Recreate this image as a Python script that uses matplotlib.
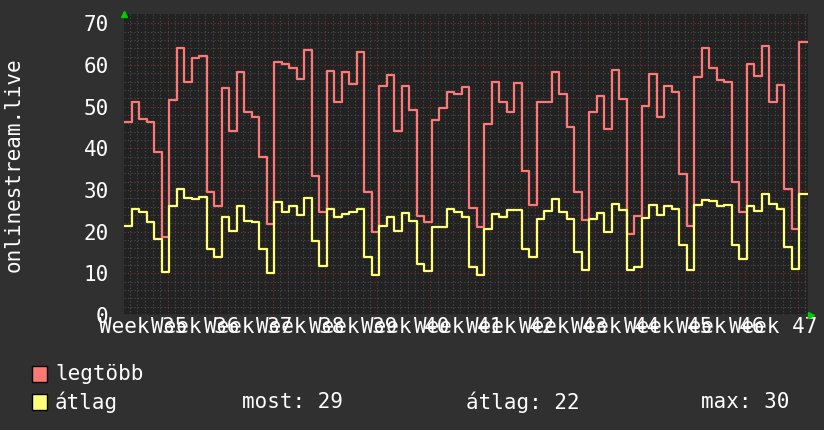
import numpy as np
import matplotlib
matplotlib.use("Agg")
import matplotlib.pyplot as plt
from matplotlib.patches import Rectangle

# ---- data (daily values) ----
legtobb = [46.2, 51.0, 47.1, 46.3, 39.1, 18.8, 51.7, 64.0, 56.0, 61.6,
           62.2, 29.5, 26.2, 54.5, 44.2, 58.2, 48.8, 47.5, 37.8, 21.9,
           60.8, 60.3, 59.3, 56.7, 63.6, 33.3, 24.8, 58.6, 51.2, 58.3,
           55.5, 63.1, 29.4, 19.8, 55.0, 57.6, 44.2, 55.0, 49.1, 23.8,
           22.4, 46.9, 49.7, 53.4, 53.0, 54.7, 25.7, 21.0, 45.8, 55.9,
           51.2, 48.6, 55.7, 34.6, 26.5, 51.0, 51.2, 58.3, 53.0, 45.2,
           29.6, 22.8, 48.8, 52.6, 44.7, 58.8, 51.8, 19.4, 23.8, 50.2,
           57.9, 47.6, 55.0, 53.4, 33.8, 21.4, 57.1, 64.1, 59.3, 56.4,
           55.8, 31.8, 24.6, 60.2, 57.4, 64.6, 51.2, 55.2, 30.2, 20.7,
           65.4]
atlag = [21.4, 25.4, 24.8, 22.4, 18.2, 10.2, 26.2, 30.2, 28.0, 27.8,
         28.2, 15.8, 14.0, 23.5, 20.1, 26.2, 22.6, 22.2, 15.8, 10.1,
         27.0, 24.8, 26.2, 24.1, 28.1, 17.7, 11.8, 25.4, 23.4, 24.2,
         24.6, 25.4, 14.0, 9.6, 21.4, 23.5, 20.2, 24.5, 22.6, 12.2,
         10.6, 21.2, 21.0, 25.4, 24.6, 23.4, 11.6, 9.6, 20.7, 24.3,
         23.4, 25.2, 25.2, 15.8, 14.0, 23.0, 24.9, 27.8, 24.6, 23.0,
         15.1, 10.7, 23.0, 24.5, 19.8, 26.7, 25.2, 10.7, 11.6, 23.3,
         26.4, 24.1, 26.2, 25.5, 16.9, 10.7, 26.5, 27.6, 27.4, 26.2,
         26.5, 16.8, 13.4, 26.2, 25.0, 29.1, 26.7, 25.4, 16.2, 11.0,
         29.1]
week_labels = ["Week 35", "Week 36", "Week 37", "Week 38", "Week 39", "Week 40",
               "Week 41", "Week 42", "Week 43", "Week 44", "Week 45", "Week 46",
               "Week 47"]
y_ticks = [0, 10, 20, 30, 40, 50, 60, 70]
y_title = "onlinestream.live"
legend_names = ["legtöbb", "átlag"]
stats = ["most: 29", "átlag: 22", "max: 30"]

# ---- style ----
BG = "#303030"
PLOT_BG = "#222222"
RED = "#ff7878"
YEL = "#ffff78"
MINOR = "#4c4c4c"
MAJOR = "#7a3434"
FONT = "DejaVu Sans Mono"
FS = 15

W, H = 824, 430
fig = plt.figure(figsize=(W / 100, H / 100), dpi=100, facecolor=BG)
x0, x1, yb, yt = 124, 808, 315, 14
ax = fig.add_axes([x0 / W, (H - yb) / H, (x1 - x0) / W, (yb - yt) / H])
ax.set_facecolor(PLOT_BG)

n = len(legtobb)
xs = np.arange(n + 1)
day_off = 0.06
xmax = (x1 - x0) / 7.5

# grid
first_major = 5.8
for d in np.arange(first_major - 6, xmax, 1.0):
    if d <= 0:
        continue
    is_major = abs(((d - first_major) / 7.0) - round((d - first_major) / 7.0)) < 1e-6
    ax.axvline(d, color=MAJOR if is_major else MINOR, lw=0.8,
               ls=(0, (1, 2)), zorder=1)
for v in np.arange(2, 72, 2):
    ax.axhline(v, color=MAJOR if v % 10 == 0 else MINOR, lw=0.8,
               ls=(0, (1, 2)), zorder=1)

ax.step(xs + day_off, list(legtobb) + [legtobb[-1]], where="post",
        color=RED, lw=1.6, zorder=3)
ax.step(xs + day_off, list(atlag) + [atlag[-1]], where="post",
        color=YEL, lw=1.6, zorder=4)

ax.set_xlim(0, xmax)
ax.set_ylim(0, (yb - yt) / 41.67 * 10)

for s in ax.spines.values():
    s.set_visible(False)
ax.axhline(0, color="#555555", lw=1.0, zorder=2)

ax.set_yticks(y_ticks)
ax.set_yticklabels([str(v) for v in y_ticks], fontsize=FS, family=FONT,
                   color="white")
label_pos = [(143 - x0) / 7.5 + 7 * i for i in range(len(week_labels))]
ax.set_xticks(label_pos)
ax.set_xticklabels(week_labels, fontsize=FS, family=FONT, color="white")
ax.tick_params(axis="both", length=0)
ax.tick_params(axis="y", pad=11)
ax.tick_params(axis="x", pad=1.5)

# arrows
ax.plot([0], [1.0], transform=ax.transAxes, marker="^", color="#00cc00",
        ms=5, clip_on=False, zorder=6)
ax.plot([1.005], [0], transform=ax.transAxes, marker=">", color="#00cc00",
        ms=5, clip_on=False, zorder=6)

fig.text(14 / W, 1 - 165 / H, y_title, rotation=90, ha="center", va="center",
         fontsize=FS, family=FONT, color="white")

# legend
for i, (name, col) in enumerate(zip(legend_names, [RED, YEL])):
    yc = 374 + 28 * i
    fig.patches.append(Rectangle((32 / W, 1 - (yc + 8) / H), 15 / W, 16 / H,
                                 transform=fig.transFigure, facecolor=col,
                                 edgecolor="black", lw=1))
    fig.text(55 / W, 1 - yc / H, name, ha="left", va="center", fontsize=FS,
             family=FONT, color="white")
for s, xp in zip(stats, [242, 466, 701]):
    fig.text(xp / W, 1 - 402 / H, s, ha="left", va="center", fontsize=FS,
             family=FONT, color="white")

fig.savefig("out.png", dpi=100, facecolor=BG)
